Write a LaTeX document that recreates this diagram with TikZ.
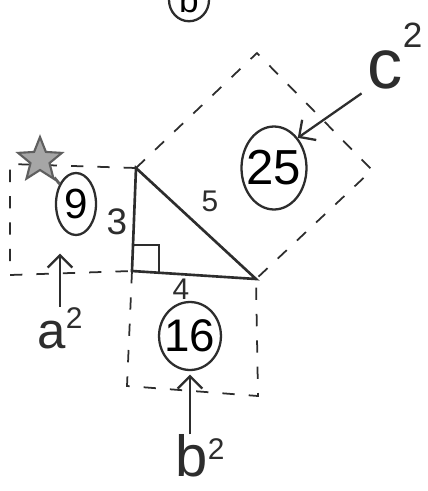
\documentclass[tikz,border=0pt]{standalone}
\usepackage{fontspec}
\setmainfont{Liberation Sans}
\usetikzlibrary{positioning, shapes.geometric, arrows.meta}
\definecolor{pencil}{RGB}{45,45,45}
\definecolor{softpencil}{RGB}{95,95,95}

\begin{document}
\begin{tikzpicture}[x=0.02cm, y=-0.02cm,
edge/.style={draw=pencil, line width=1.5pt},
guide/.style={draw=pencil, line width=1pt, dash pattern=on 7pt off 8pt},
ring/.style={ellipse, draw=pencil, line width=1.3pt, inner sep=0pt},
arrow/.style={-{Straight Barb[length=7pt, width=14pt]}, line width=1.3pt, pencil},
side/.style={text=pencil, inner sep=0pt, font=\fontsize{17}{17}\selectfont},
area/.style={text=pencil, inner sep=0pt}
]

\useasboundingbox[fill=white] (0,0) rectangle (428,491);

% triangle
\coordinate (A) at (136,168);
\coordinate (B) at (132,271);
\coordinate (C) at (256,279);
\draw[edge] (A) -- (B) -- (C) -- cycle;
\draw[pencil, line width=1.2pt] (133,245) -- (159,245) -- (159,272);

\node[side, font=\fontsize{21}{21}\selectfont] (three) at (117,222) {3};
\node[side] (four) at (181,289) {4};
\node[side] (five) at (210,201) {5};

% squares on the sides
\coordinate (a1) at (10,164);
\coordinate (a2) at (10,275);
\draw[guide] (A) -- (a1) -- (a2) -- (B);

\coordinate (b1) at (127,386);
\coordinate (b2) at (258,396);
\draw[guide] (B) -- (b1) -- (b2) -- (C);

\coordinate (c1) at (257,53);
\coordinate (c2) at (372,170);
\draw[guide] (A) -- (c1) -- (c2) -- (C);

% areas
\node[ring, minimum width=0.8cm, minimum height=1.24cm, font=\fontsize{24}{24}\selectfont] (nine) at (76,204) {9};
\node[ring, inner sep=-2pt, minimum width=1.08cm, minimum height=1.36cm, font=\fontsize{26}{26}\selectfont] (sixteen) at (190,336) {16};
\node[ring, inner sep=-4pt, minimum width=1.3cm, minimum height=1.66cm, font=\fontsize{28}{28}\selectfont] (twentyfive) at (274,168) {25};

% labels
\node[area, font=\fontsize{29}{29}\selectfont] (alabel) at (60,328) {a\raisebox{0.75ex}{\fontsize{17}{17}\selectfont 2}};
\node[area, font=\fontsize{33}{33}\selectfont] (blabel) at (200,456) {b\raisebox{0.55ex}{\fontsize{17}{17}\selectfont 2}};
\node[area, font=\fontsize{40}{40}\selectfont] (clabel) at (395,56) {c\raisebox{1.1ex}{\fontsize{20}{20}\selectfont 2}};

\draw[arrow, shorten >=10pt] (alabel.north -| 60,0) -- (nine.south -| 60,0);
\draw[arrow, shorten >=2pt] (blabel.north -| sixteen.south) -- (sixteen.south);
\draw[arrow, shorten <=4pt] (clabel.south west) -- (twentyfive.north east);

% star
\node[star, star points=5, star point ratio=2.3, minimum size=0.92cm, inner sep=0pt,
  fill=gray!70, draw=softpencil, line width=1.2pt] (star) at (40,160) {};
\draw[softpencil, line width=1.6pt] (star) -- (nine);

% cut off mark at the top
\node[ring, minimum width=0.8cm, minimum height=0.85cm, font=\fontsize{20}{20}\selectfont] (part) at (189,0) {b};

\end{tikzpicture}
\end{document}
